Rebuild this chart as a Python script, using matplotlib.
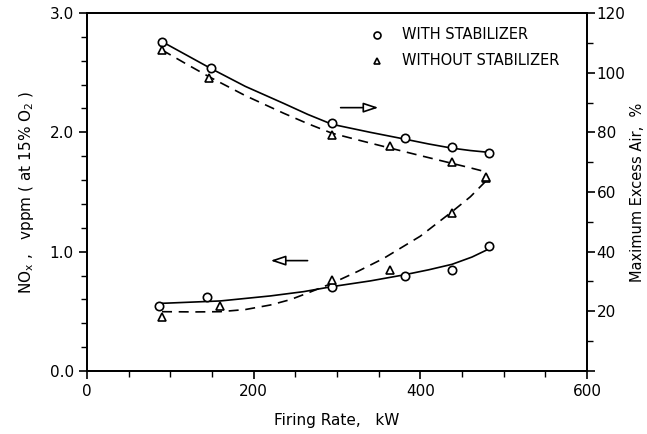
import matplotlib
matplotlib.use("Agg")
import matplotlib.pyplot as plt
from matplotlib.ticker import MultipleLocator

# measured points, firing rate (kW)
nox_with_x = [86, 144, 294, 382, 438, 482]
nox_with_y = [0.545, 0.62, 0.705, 0.80, 0.85, 1.05]
nox_wo_x = [90, 160, 294, 364, 438, 479]
nox_wo_y = [0.455, 0.545, 0.765, 0.85, 1.32, 1.615]

air_with_x = [90, 149, 294, 381, 438, 482]
air_with_y = [110.4, 101.5, 83.0, 78.2, 75.2, 73.0]
air_wo_x = [90, 146, 294, 364, 438, 479]
air_wo_y = [107.6, 98.1, 79.1, 75.4, 70.0, 65.1]

# hand-drawn curves
nox_with_cx = [90, 160, 220, 260, 294, 340, 380, 410, 438, 462, 482]
nox_with_cy = [0.567, 0.587, 0.629, 0.665, 0.707, 0.755, 0.805, 0.848, 0.894, 0.955, 1.022]
nox_wo_cx = [90, 130, 160, 190, 220, 244, 264, 294, 325, 356, 400, 438, 460, 478]
nox_wo_cy = [0.497, 0.495, 0.497, 0.515, 0.553, 0.598, 0.651, 0.735, 0.835, 0.944, 1.13, 1.335, 1.46, 1.587]

air_with_cx = [90, 120, 148, 190, 236, 265, 294, 340, 380, 410, 438, 460, 482]
air_with_cy = [110.4, 105.8, 101.5, 95.4, 89.7, 86.0, 82.7, 80.0, 77.8, 76.1, 74.7, 73.9, 73.3]
air_wo_cx = [90, 118, 146, 190, 236, 265, 294, 330, 364, 400, 438, 460, 478]
air_wo_cy = [107.6, 103.1, 98.7, 92.3, 86.4, 82.9, 79.7, 77.1, 74.7, 72.2, 69.6, 68.1, 66.8]

fig = plt.figure(figsize=(6.47, 4.34), dpi=100)
ax = fig.add_axes([0.1345, 0.1452, 0.7728, 0.8248])
ax2 = ax.twinx()

lw = 1.2
dash = (0, (6, 4))

ax.plot(nox_with_cx, nox_with_cy, color="black", lw=lw)
ax.plot(nox_wo_cx, nox_wo_cy, color="black", lw=lw, linestyle=dash)
ax.plot(nox_with_x, nox_with_y, "o", mfc="white", mec="black", ms=6, mew=1.2)
ax.plot(nox_wo_x, nox_wo_y, "^", mfc="white", mec="black", ms=6, mew=1.2)

ax2.plot(air_with_cx, air_with_cy, color="black", lw=lw)
ax2.plot(air_wo_cx, air_wo_cy, color="black", lw=lw, linestyle=dash)
ax2.plot(air_with_x, air_with_y, "o", mfc="white", mec="black", ms=6, mew=1.2)
ax2.plot(air_wo_x, air_wo_y, "^", mfc="white", mec="black", ms=6, mew=1.2)

ax.set_xlim(0, 600)
ax.set_ylim(0, 3.0)
ax2.set_ylim(0, 120)

ax.xaxis.set_major_locator(MultipleLocator(200))
ax.xaxis.set_minor_locator(MultipleLocator(50))
ax.yaxis.set_major_locator(MultipleLocator(1.0))
ax.yaxis.set_minor_locator(MultipleLocator(0.2))
ax2.yaxis.set_major_locator(MultipleLocator(20))
ax2.yaxis.set_minor_locator(MultipleLocator(10))
ax.yaxis.set_major_formatter(plt.FuncFormatter(lambda v, p: f"{v:.1f}"))
ax2.yaxis.set_major_formatter(plt.FuncFormatter(lambda v, p: "" if v == 0 else f"{v:.0f}"))

for a in (ax, ax2):
    a.tick_params(which="major", direction="out", length=6, width=1.2, labelsize=11)
    a.tick_params(which="minor", direction="out", length=4, width=1.0)
    for s in a.spines.values():
        s.set_linewidth(1.3)
ax2.tick_params(axis="y", pad=1)

ax.set_xlabel("Firing Rate,   kW", fontsize=11, labelpad=10)
ax.set_ylabel(r"NO$_{\rm x}$ ,   vppm ( at 15% O$_2$ )", fontsize=11, labelpad=10)
ax2.set_ylabel("Maximum Excess Air,  %", fontsize=10.5, labelpad=3)

# arrows pointing to the axis each curve pair belongs to
ax.annotate("", xy=(353, 2.207), xytext=(301, 2.207),
            arrowprops=dict(arrowstyle="-|>,head_length=0.9,head_width=0.3",
                            fc="white", ec="black", lw=1.2))
ax.annotate("", xy=(217, 0.925), xytext=(268, 0.925),
            arrowprops=dict(arrowstyle="-|>,head_length=0.9,head_width=0.3",
                            fc="white", ec="black", lw=1.2))

# legend
ax.plot([348], [2.816], "o", mfc="white", mec="black", ms=5, mew=1.2)
ax.text(378, 2.816, "WITH STABILIZER", fontsize=10.5, va="center")
ax.plot([348], [2.598], "^", mfc="white", mec="black", ms=5, mew=1.2)
ax.text(378, 2.598, "WITHOUT STABILIZER", fontsize=10.5, va="center")

fig.savefig("out.png", dpi=100)
